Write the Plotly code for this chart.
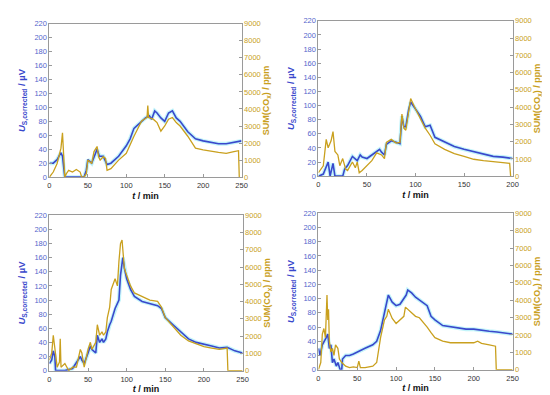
import plotly.graph_objects as go

# ---------------- data ----------------
# Panel A (top-left)
t_u_a = [0, 5, 10, 15, 17, 20, 30, 45, 48, 50, 55, 60, 62, 65, 70, 72, 75, 80, 90, 100, 105, 110, 120, 125, 130, 133, 137, 140, 145, 150, 155, 160, 165, 170, 180, 190, 200, 210, 220, 230, 240, 250]
u_a   = [20, 20, 25, 35, 30, 0, 0, 0, 10, 25, 20, 35, 40, 30, 30, 25, 18, 20, 30, 45, 55, 70, 80, 85, 88, 83, 95, 92, 85, 80, 92, 95, 85, 80, 65, 55, 52, 50, 48, 48, 50, 52]
t_c_a = [0, 5, 10, 15, 17, 19, 20, 22, 25, 30, 35, 40, 42, 45, 48, 50, 55, 58, 60, 62, 64, 66, 70, 73, 75, 80, 90, 100, 110, 120, 127, 128, 129, 135, 140, 145, 150, 155, 160, 165, 170, 180, 190, 200, 220, 230, 240, 246, 247]
c_a   = [0, 300, 800, 1700, 2600, 1000, 0, 200, 400, 300, 450, 300, 0, 0, 200, 1000, 800, 1500, 1700, 1800, 1200, 1000, 1200, 1100, 400, 500, 1000, 1400, 2400, 3300, 3500, 4200, 3500, 3400, 3200, 2700, 3000, 3400, 3500, 3200, 3000, 2400, 1700, 1600, 1450, 1400, 1500, 1550, 0]

# Panel B (top-right)
t_u_b = [0, 5, 10, 12, 15, 17, 25, 27, 30, 35, 40, 43, 45, 50, 55, 60, 63, 65, 68, 70, 75, 80, 84, 86, 88, 90, 93, 95, 100, 105, 110, 115, 120, 130, 140, 150, 160, 170, 180, 190, 200]
u_b   = [0, 3, 20, 0, 18, 0, 0, 10, 15, 28, 22, 30, 27, 25, 30, 35, 38, 34, 30, 45, 50, 48, 46, 85, 70, 70, 95, 105, 95, 85, 70, 72, 55, 48, 42, 38, 35, 32, 28, 27, 25]
t_c_b = [0, 5, 8, 10, 13, 15, 17, 20, 22, 25, 28, 30, 35, 38, 40, 42, 45, 50, 55, 60, 65, 68, 70, 75, 80, 84, 86, 88, 90, 93, 95, 100, 105, 110, 115, 120, 130, 140, 150, 160, 170, 180, 190, 197, 198]
c_b   = [200, 600, 2130, 1640, 2050, 2580, 1430, 1230, 610, 1020, 410, 330, 820, 490, 820, 200, 330, 610, 900, 1350, 1230, 1020, 1960, 2130, 1920, 1960, 3600, 2780, 2660, 3760, 4500, 3890, 3350, 2780, 2370, 1880, 1550, 1310, 1150, 980, 900, 820, 780, 740, 0]

# Panel C (bottom-left)
t_u_c = [0, 3, 5, 7, 8, 15, 20, 30, 40, 42, 45, 50, 53, 55, 60, 62, 65, 68, 70, 73, 75, 78, 80, 85, 88, 90, 92, 95, 97, 100, 105, 110, 120, 130, 140, 145, 150, 160, 170, 180, 190, 200, 210, 220, 230, 240, 250]
u_c   = [10, 15, 28, 20, 0, 0, 0, 3, 20, 15, 10, 25, 35, 30, 25, 50, 40, 45, 40, 45, 55, 65, 70, 88, 95, 100, 135, 160, 145, 130, 115, 105, 98, 95, 92, 88, 75, 65, 55, 45, 40, 38, 35, 32, 33, 28, 25]
t_c_c = [0, 3, 5, 7, 10, 13, 14, 15, 20, 25, 30, 35, 40, 42, 45, 50, 53, 55, 60, 62, 65, 68, 70, 73, 75, 78, 80, 85, 88, 90, 92, 94, 95, 97, 100, 105, 110, 120, 130, 140, 145, 150, 160, 170, 180, 190, 200, 210, 220, 230, 231, 250]
c_c   = [610, 1020, 2050, 1430, 200, 500, 1840, 200, 410, 0, 200, 200, 1230, 1020, 200, 1230, 1640, 1230, 1640, 2660, 2050, 2250, 2050, 2250, 3070, 3680, 4700, 5320, 4910, 6340, 7360, 7570, 6950, 5930, 5520, 4910, 4500, 4300, 4090, 4010, 3680, 3070, 2540, 2050, 1720, 1550, 1390, 1310, 1230, 1310, 0, 0]

# Panel D (bottom-right)
t_u_d = [0, 2, 5, 8, 10, 12, 14, 16, 18, 20, 23, 25, 28, 30, 31, 35, 40, 45, 50, 55, 60, 70, 75, 80, 85, 88, 90, 95, 100, 105, 110, 113, 115, 120, 125, 130, 135, 140, 145, 150, 160, 170, 180, 190, 200, 210, 220, 230, 240, 250]
u_d   = [30, 20, 35, 40, 45, 50, 30, 35, 10, 15, 5, 10, 0, 0, 15, 20, 20, 22, 25, 28, 30, 35, 40, 55, 80, 95, 105, 95, 90, 92, 100, 105, 112, 108, 102, 98, 95, 90, 75, 70, 62, 60, 58, 57, 57, 55, 54, 53, 52, 50]
t_c_d = [0, 3, 5, 7, 9, 11, 12, 13, 14, 16, 18, 20, 22, 25, 27, 30, 35, 40, 45, 50, 52, 54, 60, 70, 75, 78, 80, 85, 88, 90, 95, 100, 105, 110, 112, 115, 120, 125, 130, 135, 140, 145, 150, 160, 170, 180, 190, 200, 205, 210, 220, 228, 229, 250]
c_d   = [0, 410, 2050, 2370, 1840, 4300, 2860, 3480, 1640, 1020, 1230, 820, 1430, 1230, 610, 410, 200, 120, 160, 120, 490, 120, 120, 200, 410, 1230, 1840, 2860, 3070, 3480, 2950, 2660, 2860, 3070, 3600, 3480, 3270, 3070, 2990, 2740, 2450, 2130, 1840, 1640, 1550, 1550, 1550, 1550, 1640, 1510, 1430, 1350, 0, 0]

panels = [
    dict(tu=t_u_a, u=u_a, tc=t_c_a, c=c_a, xmax=250, xd=[40/550, 235/550], yd=[1-169/395, 1-12/395]),
    dict(tu=t_u_b, u=u_b, tc=t_c_b, c=c_b, xmax=200, xd=[313/550, 510/550], yd=[1-168/395, 1-9/395]),
    dict(tu=t_u_c, u=u_c, tc=t_c_c, c=c_c, xmax=250, xd=[40/550, 236/550], yd=[1-367/395, 1-208/395]),
    dict(tu=t_u_d, u=u_d, tc=t_c_d, c=c_d, xmax=250, xd=[313/550, 510/550], yd=[1-366/395, 1-206/395]),
]

BLUE = "#3a48cc"
BLUE_TXT = "#5566cc"
CYAN = "rgba(120,230,245,0.45)"
GOLD = "#c9a01e"
FRAME = "#9a9a9a"
FONT = "Arial, Liberation Sans, sans-serif"
TICK = 7.5
TITLE = 9

fig = go.Figure()
layout = {}
for i, p in enumerate(panels):
    xn = "x" if i == 0 else f"x{i+1}"
    yl = 2 * i + 1
    yr = 2 * i + 2
    yln = "y" if yl == 1 else f"y{yl}"
    yrn = f"y{yr}"
    fig.add_trace(go.Scatter(x=p["tu"], y=p["u"], xaxis=xn, yaxis=yln, mode="lines",
                             line=dict(color=CYAN, width=4), hoverinfo="skip", showlegend=False))
    fig.add_trace(go.Scatter(x=p["tu"], y=p["u"], xaxis=xn, yaxis=yln, mode="lines",
                             line=dict(color=BLUE, width=1.6), showlegend=False))
    fig.add_trace(go.Scatter(x=p["tc"], y=p["c"], xaxis=xn, yaxis=yrn, mode="lines",
                             line=dict(color=GOLD, width=1.3), showlegend=False))
    xkey = "xaxis" if i == 0 else f"xaxis{i+1}"
    ylkey = "yaxis" if yl == 1 else f"yaxis{yl}"
    yrkey = f"yaxis{yr}"
    layout[xkey] = dict(domain=p["xd"], anchor=yln, range=[0, p["xmax"]], dtick=50,
                        showline=True, linecolor=FRAME, linewidth=1, mirror=True,
                        ticks="inside", ticklen=3, tickcolor=FRAME, showgrid=False, zeroline=False,
                        ticklabelstandoff=1,
                        tickfont=dict(size=TICK, color="#333", family=FONT),
                        title=dict(text="<b><i>t</i> / min</b>", font=dict(size=TITLE, color="#111", family=FONT), standoff=3))
    layout[ylkey] = dict(domain=p["yd"], anchor=xn, range=[0, 220], dtick=20,
                         showline=True, linecolor=FRAME, linewidth=1,
                         ticks="inside", ticklen=3, tickcolor=FRAME, showgrid=False, zeroline=False,
                         tickfont=dict(size=TICK, color=BLUE_TXT, family=FONT),
                         title=dict(text="<b><i>U</i><sub>S,corrected</sub> / µV</b>", font=dict(size=9.5, color=BLUE, family=FONT), standoff=7))
    layout[yrkey] = dict(overlaying=yln, anchor=xn, side="right", range=[0, 9000], dtick=1000,
                         showline=True, linecolor=FRAME, linewidth=1,
                         ticks="inside", ticklen=3, tickcolor=FRAME, showgrid=False, zeroline=False,
                         tickfont=dict(size=TICK, color=GOLD, family=FONT),
                         title=dict(text="<b>SUM(CO<sub>x</sub>) / ppm</b>", font=dict(size=TITLE, color=GOLD, family=FONT), standoff=0))

fig.update_layout(**layout)
fig.update_layout(width=550, height=395, margin=dict(l=0, r=0, t=0, b=0),
                  paper_bgcolor="white", plot_bgcolor="white", showlegend=False,
                  font=dict(family=FONT))
fig.write_html("out.html")
